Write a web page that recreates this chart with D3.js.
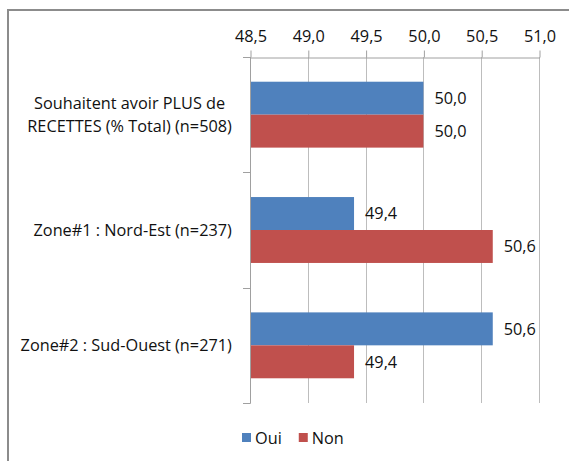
<!DOCTYPE html>
<html>
<head>
<meta charset="utf-8">
<script src="https://cdn.jsdelivr.net/npm/d3@7"></script>
<style>
  html, body { margin: 0; padding: 0; background: #fff; }
  svg { display: block; }
  text { font-family: "Open Sans", "Liberation Sans", sans-serif; fill: #111; }
</style>
</head>
<body>
<svg id="chart" width="569" height="461"></svg>
<script>
// Category labels (each entry is a list of wrapped lines)
const categories = [
  ["Souhaitent avoir PLUS de", "RECETTES (% Total) (n=508)"],
  ["Zone#1 : Nord-Est (n=237)"],
  ["Zone#2 : Sud-Ouest (n=271)"]
];
const seriesNames = ["Oui", "Non"];
const seriesColors = ["#4F81BD", "#C0504D"];
const ouiValues = [50.0, 49.4, 50.6];
const nonValues = [50.0, 50.6, 49.4];
const tickValues = [48.5, 49.0, 49.5, 50.0, 50.5, 51.0];

const rows = categories.map((c, i) => ({
  key: i, lines: c, values: [ouiValues[i], nonValues[i]]
}));

const FONT = "16.3px";
const svg = d3.select("#chart");
const fmt = v => d3.format(".1f")(v).replace(".", ",");

// Outer frame
svg.append("rect")
  .attr("x", 8).attr("y", 10).attr("width", 600).attr("height", 500)
  .attr("fill", "none").attr("stroke", "#8c8c8c").attr("stroke-width", 2);

const plot = { left: 250, right: 539, top: 57, bottom: 403 };

const x = d3.scaleLinear().domain([48.5, 51.0]).range([plot.left, plot.right]);
const y0 = d3.scaleBand().domain(rows.map(r => r.key)).range([plot.top, plot.bottom]).padding(0);
const y1 = d3.scaleBand().domain(seriesNames).range([0, y0.bandwidth()])
  .paddingInner(0).paddingOuter(0.75);

// Vertical gridlines
svg.append("g").selectAll("line").data(tickValues.slice(1)).join("line")
  .attr("x1", d => Math.round(x(d)) + 0.5).attr("x2", d => Math.round(x(d)) + 0.5)
  .attr("y1", plot.top).attr("y2", plot.bottom)
  .attr("stroke", "#bdbdbd").attr("stroke-width", 1);

// Top value axis
const xAxis = svg.append("g")
  .attr("transform", `translate(0.5,${plot.top + 0.5})`)
  .call(d3.axisTop(x).tickValues(tickValues).tickFormat(fmt).tickSize(7).tickPadding(9).tickSizeOuter(0));
xAxis.select(".domain").attr("stroke", "#a0a0a0");
xAxis.selectAll(".tick line").attr("stroke", "#a0a0a0");
xAxis.selectAll(".tick text")
  .style("font-family", "\"Open Sans\", sans-serif").style("font-size", FONT).attr("fill", "#111");

// Category axis on the left, with boundary ticks
const catAxis = svg.append("g");
catAxis.append("line")
  .attr("x1", plot.left + 0.5).attr("x2", plot.left + 0.5)
  .attr("y1", plot.top).attr("y2", plot.bottom + 0.5)
  .attr("stroke", "#a0a0a0");
const bounds = rows.map(r => y0(r.key)).concat([plot.bottom]);
catAxis.selectAll("line.cat-tick").data(bounds).join("line")
  .attr("class", "cat-tick")
  .attr("x1", plot.left - 7).attr("x2", plot.left + 0.5)
  .attr("y1", d => Math.round(d) + 0.5).attr("y2", d => Math.round(d) + 0.5)
  .attr("stroke", "#a0a0a0");

// Category labels: wrapped lines centred on each other, block right-aligned
const lineH = 23;
const labelRight = 232;
catAxis.selectAll("text.cat").data(rows).join("text")
  .attr("class", "cat")
  .attr("text-anchor", "middle")
  .style("font-size", FONT)
  .each(function (r) {
    const t = d3.select(this);
    const cy = y0(r.key) + y0.bandwidth() / 2;
    const startY = cy - (r.lines.length - 1) * lineH / 2;
    r.lines.forEach((ln, j) => {
      t.append("tspan").attr("x", 0).attr("y", startY + j * lineH).attr("dy", "0.35em").text(ln);
    });
    const bw = this.getBBox().width;
    t.selectAll("tspan").attr("x", labelRight - bw / 2);
  });

// Bars
const groups = svg.append("g").selectAll("g").data(rows).join("g")
  .attr("transform", r => `translate(0,${y0(r.key)})`);

groups.selectAll("rect").data(r => r.values.map((v, i) => ({ v, s: seriesNames[i], c: seriesColors[i] })))
  .join("rect")
  .attr("x", x(48.5) + 1)
  .attr("y", d => y1(d.s))
  .attr("width", d => x(d.v) - x(48.5) - 1)
  .attr("height", y1.bandwidth())
  .attr("fill", d => d.c);

// Value labels
groups.selectAll("text").data(r => r.values.map((v, i) => ({ v, s: seriesNames[i] })))
  .join("text")
  .attr("x", d => x(d.v) + 11)
  .attr("y", d => y1(d.s) + y1.bandwidth() / 2)
  .attr("dy", "0.35em")
  .style("font-size", FONT)
  .text(d => fmt(d.v));

// Legend
const legend = svg.append("g").attr("transform", "translate(242,438)");
let lx = 0;
seriesNames.forEach((name, i) => {
  const item = legend.append("g").attr("transform", `translate(${lx},0)`);
  item.append("rect").attr("x", 0).attr("y", -5).attr("width", 9).attr("height", 9).attr("fill", seriesColors[i]);
  const txt = item.append("text").attr("x", 13).attr("y", 0).attr("dy", "0.35em")
    .style("font-size", FONT).text(name);
  lx += 13 + txt.node().getComputedTextLength() + 17;
});
</script>
</body>
</html>
